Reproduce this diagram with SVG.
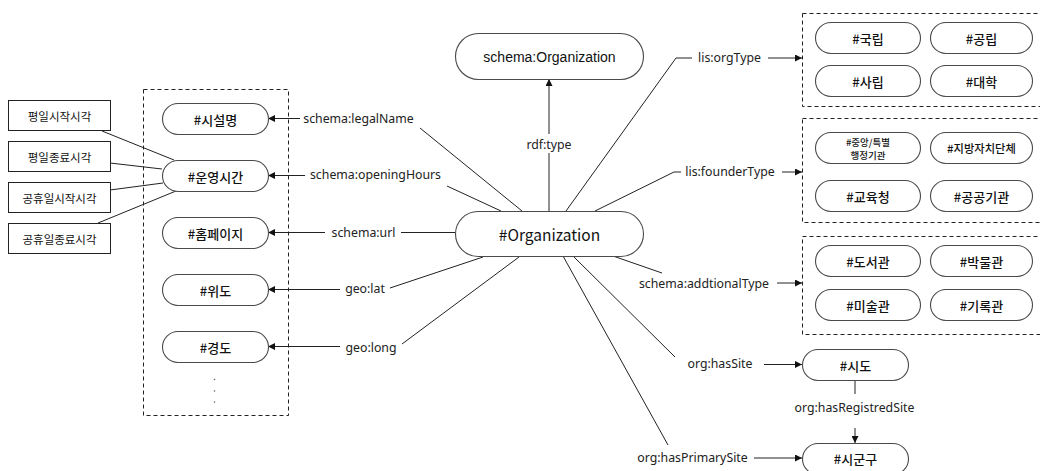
<svg xmlns="http://www.w3.org/2000/svg" width="1040" height="471" viewBox="0 0 1040 471">
<defs>
<marker id="arr" viewBox="0 0 10 10" refX="10" refY="5" markerWidth="8" markerHeight="7" markerUnits="userSpaceOnUse" orient="auto">
<path d="M0,0 L10,5 L0,10 z" fill="#111"/>
</marker>
<style>
.pill{fill:#fff;stroke:#4a4a4a;stroke-width:1.1}
.rect{fill:#fff;stroke:#222;stroke-width:1}
.dash{fill:none;stroke:#222;stroke-width:1;stroke-dasharray:4 3}
.ln{fill:none;stroke:#222;stroke-width:1}
.ar{fill:none;stroke:#222;stroke-width:1;marker-end:url(#arr)}
.lbl{font-family:"Noto Sans","Noto Sans CJK KR",sans-serif;font-size:12.3px;fill:#222;text-anchor:middle;dominant-baseline:central}
.kt{font-family:"Noto Sans CJK KR",sans-serif;font-size:13px;font-weight:500;fill:#111;text-anchor:middle;dominant-baseline:central}
.kr{font-family:"Noto Sans CJK KR",sans-serif;font-size:11.5px;fill:#111;text-anchor:middle;dominant-baseline:central}
</style>
</defs>
<rect width="1040" height="471" fill="#fff"/>

<!-- containers -->
<rect class="dash" x="143.5" y="89.5" width="145" height="326"/>
<rect class="dash" x="802.5" y="13.5" width="245" height="93"/>
<rect class="dash" x="802.5" y="118.5" width="245" height="104"/>
<rect class="dash" x="802.5" y="236.5" width="245" height="98"/>

<!-- connectors -->
<g id="connectors">
<line class="ln" x1="102" y1="131" x2="174" y2="160"/>
<line class="ln" x1="110" y1="163" x2="162" y2="169"/>
<line class="ln" x1="110" y1="190" x2="163" y2="183"/>
<line class="ln" x1="98" y1="223" x2="176" y2="191"/>

<line class="ar" x1="300" y1="118.5" x2="268" y2="118.5"/>
<line class="ln" x1="420" y1="128" x2="522" y2="211"/>
<line class="ar" x1="305" y1="175.5" x2="268" y2="175.5"/>
<line class="ln" x1="447" y1="186" x2="501" y2="211"/>
<line class="ar" x1="325" y1="232.5" x2="268" y2="232.5"/>
<line class="ln" x1="401" y1="232.5" x2="455" y2="232.5"/>
<line class="ar" x1="340" y1="289.5" x2="268" y2="289.5"/>
<line class="ln" x1="390" y1="288" x2="483" y2="257"/>
<line class="ar" x1="340" y1="346.5" x2="268" y2="346.5"/>
<line class="ln" x1="402" y1="344" x2="519" y2="257"/>

<line class="ln" x1="549" y1="211" x2="549" y2="153"/>
<line class="ar" x1="549" y1="134" x2="549" y2="79"/>

<polyline class="ln" points="566,211 676,58 692,58"/>
<line class="ar" x1="768" y1="58" x2="802" y2="58"/>
<polyline class="ln" points="595,211 674,172 681,172"/>
<line class="ar" x1="782" y1="172" x2="802" y2="172"/>
<line class="ln" x1="613" y1="256" x2="662" y2="273"/>
<line class="ar" x1="777" y1="283" x2="802" y2="283"/>
<line class="ln" x1="573" y1="256" x2="675" y2="357"/>
<line class="ar" x1="764" y1="364.5" x2="802" y2="364.5"/>
<line class="ln" x1="563" y1="256" x2="668" y2="445"/>
<line class="ar" x1="754" y1="458" x2="802" y2="458"/>
<line class="ln" x1="855" y1="380" x2="855" y2="394"/>
<line class="ar" x1="855" y1="428" x2="855" y2="443"/>
</g>

<!-- edge labels -->
<g id="edge-labels">
<text class="lbl" x="358.5" y="118">schema:legalName</text>
<text class="lbl" x="375.5" y="174.5">schema:openingHours</text>
<text class="lbl" x="363.5" y="232.5">schema:url</text>
<text class="lbl" x="365" y="288">geo:lat</text>
<text class="lbl" x="371" y="347">geo:long</text>
<text class="lbl" x="549" y="144.5">rdf:type</text>
<text class="lbl" x="729.5" y="57.5">lis:orgType</text>
<text class="lbl" x="730" y="171.5">lis:founderType</text>
<text class="lbl" x="704" y="283">schema:addtionalType</text>
<text class="lbl" x="720" y="363">org:hasSite</text>
<text class="lbl" x="854.5" y="407">org:hasRegistredSite</text>
<text class="lbl" x="692.5" y="457">org:hasPrimarySite</text>
</g>

<!-- left rect nodes -->
<g id="n-weekday-start"><rect class="rect" x="8.5" y="100.5" width="102" height="30"/><text class="kr" x="59.5" y="115.5">평일시작시각</text></g>
<g id="n-weekday-end"><rect class="rect" x="8.5" y="141.5" width="102" height="30"/><text class="kr" x="59.5" y="156.5">평일종료시각</text></g>
<g id="n-holiday-start"><rect class="rect" x="8.5" y="182.5" width="102" height="30"/><text class="kr" x="59.5" y="197.5">공휴일시작시각</text></g>
<g id="n-holiday-end"><rect class="rect" x="8.5" y="223.5" width="102" height="30"/><text class="kr" x="59.5" y="238.5">공휴일종료시각</text></g>

<!-- left pills -->
<g id="n-name"><rect class="pill" x="162.5" y="103.5" width="106" height="31" rx="15.5"/><text class="kt" x="215.5" y="119">#시설명</text></g>
<g id="n-hours"><rect class="pill" x="162.5" y="160.5" width="106" height="31" rx="15.5"/><text class="kt" x="215.5" y="176">#운영시간</text></g>
<g id="n-homepage"><rect class="pill" x="162.5" y="217.5" width="106" height="31" rx="15.5"/><text class="kt" x="215.5" y="233">#홈페이지</text></g>
<g id="n-lat"><rect class="pill" x="162.5" y="274.5" width="106" height="31" rx="15.5"/><text class="kt" x="215.5" y="290">#위도</text></g>
<g id="n-long"><rect class="pill" x="162.5" y="331.5" width="106" height="31" rx="15.5"/><text class="kt" x="215.5" y="347">#경도</text></g>
<g id="n-more" fill="#666"><circle cx="214.5" cy="379.5" r="0.8"/><circle cx="214.5" cy="391" r="0.8"/><circle cx="214.5" cy="402" r="0.8"/></g>

<!-- central -->
<g id="n-schema-org"><rect class="pill" x="455.5" y="33.5" width="188" height="46" rx="23"/><text x="549.5" y="56.5" style="font-family:'Liberation Sans',Arial,sans-serif;font-size:14px;fill:#111;text-anchor:middle;dominant-baseline:central">schema:Organization</text></g>
<g id="n-org"><rect class="pill" x="455.5" y="211.5" width="188" height="45" rx="22.5"/><text x="549.5" y="233.5" style="font-family:'Noto Sans CJK KR','Noto Sans',sans-serif;font-size:15.5px;fill:#111;text-anchor:middle;dominant-baseline:central">#Organization</text></g>

<!-- orgType -->
<g id="n-national"><rect class="pill" x="815.5" y="22.5" width="105" height="31" rx="15.5"/><text class="kt" x="868" y="38">#국립</text></g>
<g id="n-public"><rect class="pill" x="930.5" y="22.5" width="102" height="31" rx="15.5"/><text class="kt" x="981.5" y="38">#공립</text></g>
<g id="n-private"><rect class="pill" x="815.5" y="65.5" width="105" height="31" rx="15.5"/><text class="kt" x="868" y="81">#사립</text></g>
<g id="n-univ"><rect class="pill" x="930.5" y="65.5" width="102" height="31" rx="15.5"/><text class="kt" x="981.5" y="81">#대학</text></g>

<!-- founderType -->
<g id="n-central"><rect class="pill" x="815.5" y="132.5" width="105" height="31" rx="15.5"/><text class="kr" style="font-size:9.5px;font-weight:500" x="868" y="142">#중앙/특별</text><text class="kr" style="font-size:9.5px;font-weight:500" x="868" y="155">행정기관</text></g>
<g id="n-local"><rect class="pill" x="930.5" y="132.5" width="102" height="31" rx="15.5"/><text class="kt" style="font-size:11.3px" x="981.5" y="148">#지방자치단체</text></g>
<g id="n-edu"><rect class="pill" x="815.5" y="180.5" width="105" height="31" rx="15.5"/><text class="kt" x="868" y="196">#교육청</text></g>
<g id="n-publicorg"><rect class="pill" x="930.5" y="180.5" width="102" height="31" rx="15.5"/><text class="kt" x="981.5" y="196">#공공기관</text></g>

<!-- additionalType -->
<g id="n-library"><rect class="pill" x="815.5" y="245.5" width="105" height="31" rx="15.5"/><text class="kt" x="868" y="261">#도서관</text></g>
<g id="n-museum"><rect class="pill" x="930.5" y="245.5" width="102" height="31" rx="15.5"/><text class="kt" x="981.5" y="261">#박물관</text></g>
<g id="n-gallery"><rect class="pill" x="815.5" y="289.5" width="105" height="31" rx="15.5"/><text class="kt" x="868" y="305">#미술관</text></g>
<g id="n-archive"><rect class="pill" x="930.5" y="289.5" width="102" height="31" rx="15.5"/><text class="kt" x="981.5" y="305">#기록관</text></g>

<!-- sites -->
<g id="n-sido"><rect class="pill" x="802.5" y="349.5" width="106" height="31" rx="15.5"/><text class="kt" x="855.5" y="365">#시도</text></g>
<g id="n-sigungu"><rect class="pill" x="802.5" y="443.5" width="106" height="31" rx="15.5"/><text class="kt" x="855.5" y="458.5">#시군구</text></g>
</svg>
